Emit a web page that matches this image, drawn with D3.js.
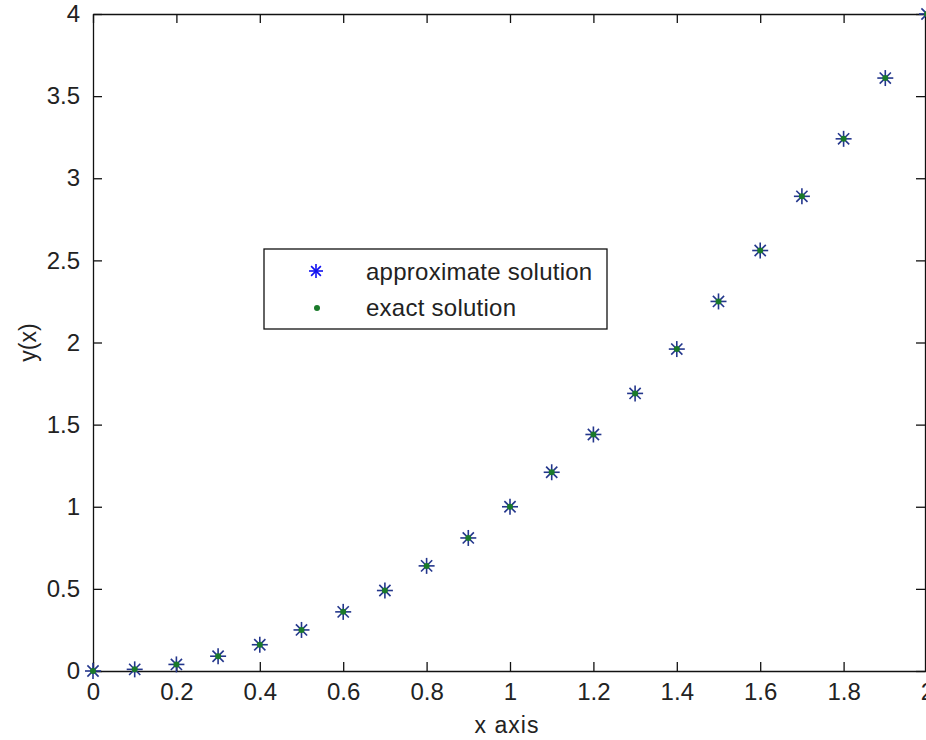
<!DOCTYPE html>
<html>
<head>
<meta charset="utf-8">
<script src="https://cdn.jsdelivr.net/npm/d3@7"></script>
<style>
  body { margin: 0; background: #fff; }
  svg { display: block; }
  text { font-family: "Liberation Sans", Arial, sans-serif; fill: #222; }
</style>
</head>
<body>
<svg id="chart"></svg>
<script>
(function(){
    "use strict";

    // data
    var xValues = [0, 0.1, 0.2, 0.3, 0.4, 0.5, 0.6, 0.7, 0.8, 0.9, 1.0,
                   1.1, 1.2, 1.3, 1.4, 1.5, 1.6, 1.7, 1.8, 1.9, 2.0];
    var approxValues = [0, 0.01, 0.04, 0.09, 0.16, 0.25, 0.36, 0.49, 0.64, 0.81, 1.0,
                        1.21, 1.44, 1.69, 1.96, 2.25, 2.56, 2.89, 3.24, 3.61, 4.0];
    var exactValues = [0, 0.01, 0.04, 0.09, 0.16, 0.25, 0.36, 0.49, 0.64, 0.81, 1.0,
                       1.21, 1.44, 1.69, 1.96, 2.25, 2.56, 2.89, 3.24, 3.61, 4.0];
    var xTicks = [0, 0.2, 0.4, 0.6, 0.8, 1, 1.2, 1.4, 1.6, 1.8, 2];
    var yTicks = [0, 0.5, 1, 1.5, 2, 2.5, 3, 3.5, 4];
    var seriesNames = ["approximate solution", "exact solution"];

    var width = 926,
        height = 740,
        left = 93, right = 927, top = 14, bottom = 671,
        boxRight = 925;

    var svg = d3.select("svg#chart")
        .attr("width", width)
        .attr("height", height);

    var x = d3.scaleLinear().domain([0, 2]).range([left, right]);
    var y = d3.scaleLinear().domain([0, 4]).range([bottom, top]);

    var fmt = function(d) { return String(d); };

    // axes, ticks pointing inward like matlab
    svg.append("g")
        .attr("transform", "translate(0," + bottom + ")")
        .call(d3.axisBottom(x).tickValues(xTicks).tickFormat(fmt).tickSizeInner(-9).tickSizeOuter(0).tickPadding(12));
    svg.append("g")
        .attr("transform", "translate(0," + top + ")")
        .call(d3.axisTop(x).tickValues(xTicks).tickFormat("").tickSizeInner(-9).tickSizeOuter(0));
    svg.append("g")
        .attr("transform", "translate(" + left + ",0)")
        .call(d3.axisLeft(y).tickValues(yTicks).tickFormat(fmt).tickSizeInner(-9).tickSizeOuter(0).tickPadding(13));
    svg.append("g")
        .attr("transform", "translate(" + boxRight + ",0)")
        .call(d3.axisRight(y).tickValues(yTicks).tickFormat("").tickSizeInner(-9).tickSizeOuter(0));

    svg.selectAll(".domain").attr("stroke", "#111").attr("stroke-width", 1.3);
    svg.selectAll(".tick line").attr("stroke", "#111").attr("stroke-width", 1.3);
    svg.selectAll(".tick text").attr("font-size", 24).attr("fill", "#222")
        .attr("font-family", "Liberation Sans, Arial, sans-serif");

    // axis labels
    svg.append("text")
        .attr("x", 507)
        .attr("y", 733)
        .attr("text-anchor", "middle")
        .attr("font-size", 23)
        .attr("letter-spacing", 1)
        .text("x axis");
    svg.append("text")
        .attr("transform", "translate(36," + ((top + bottom) / 2) + ") rotate(-90)")
        .attr("text-anchor", "middle")
        .attr("font-size", 23)
        .text("y(x)");

    function asterisk(g, r, color) {
        g.append("line").attr("x1", -r).attr("x2", r).attr("y1", 0).attr("y2", 0);
        g.append("line").attr("x1", 0).attr("x2", 0).attr("y1", -r).attr("y2", r);
        var k = r * 0.7;
        g.append("line").attr("x1", -k).attr("x2", k).attr("y1", -k).attr("y2", k);
        g.append("line").attr("x1", -k).attr("x2", k).attr("y1", k).attr("y2", -k);
        g.selectAll("line").attr("stroke", color).attr("stroke-width", 1.6);
    }

    // approximate solution: blue asterisks
    svg.append("g").selectAll("g")
        .data(xValues)
        .join("g")
        .attr("transform", function(d, i) { return "translate(" + x(d) + "," + y(approxValues[i]) + ")"; })
        .each(function() { asterisk(d3.select(this), 8, "#23368c"); });

    // exact solution: green dots
    svg.append("g").selectAll("circle")
        .data(xValues)
        .join("circle")
        .attr("cx", function(d) { return x(d); })
        .attr("cy", function(d, i) { return y(exactValues[i]); })
        .attr("r", 3)
        .attr("fill", "#1a7a2a");

    // legend
    var lg = svg.append("g");
    lg.append("rect")
        .attr("x", 264).attr("y", 249)
        .attr("width", 343).attr("height", 80)
        .attr("fill", "#fff").attr("stroke", "#111").attr("stroke-width", 1.3);
    asterisk(lg.append("g").attr("transform", "translate(316,271)"), 7, "#1010f0");
    lg.append("circle").attr("cx", 317).attr("cy", 308).attr("r", 3).attr("fill", "#1a7a2a");
    lg.selectAll("text.lab")
        .data(seriesNames)
        .join("text")
        .attr("class", "lab")
        .attr("x", 366)
        .attr("y", function(d, i) { return 280 + i * 36; })
        .attr("font-size", 24)
        .attr("letter-spacing", 0.25)
        .text(function(d) { return d; });
})();
</script>
</body>
</html>
